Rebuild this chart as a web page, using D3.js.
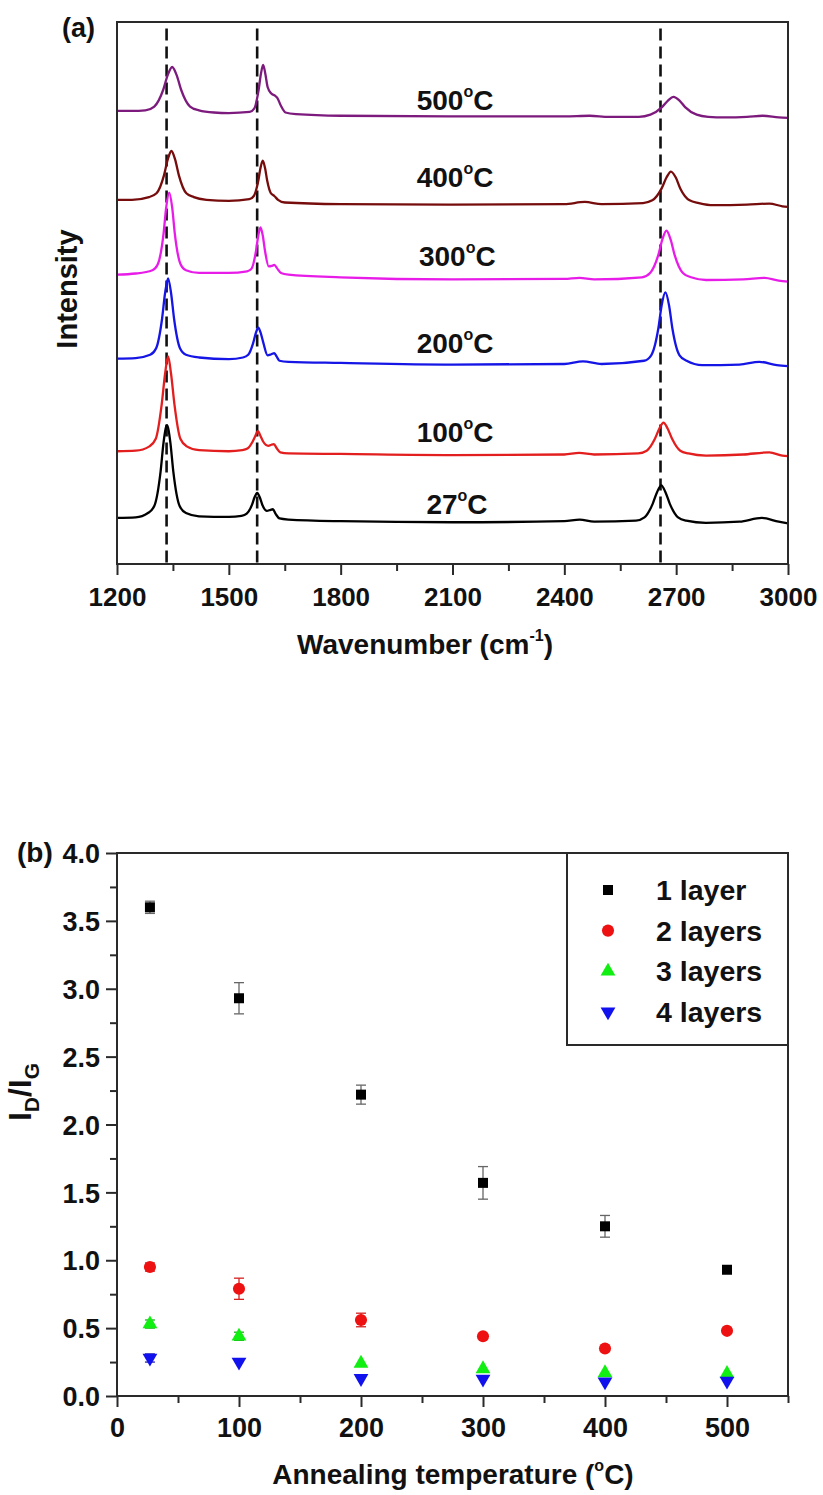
<!DOCTYPE html>
<html><head><meta charset="utf-8">
<script src="https://cdn.jsdelivr.net/npm/d3@7"></script>
<style>
body{margin:0;background:#fff}
svg{display:block}
text{font-family:"Liberation Sans",Arial,Helvetica,sans-serif;font-weight:bold;fill:#111}
</style>
</head><body>
<svg id="chart" width="823" height="1495"></svg>
<script>
// ---------- Panel (a): Raman spectra ----------
const spectraTemps = ["500", "400", "300", "200", "100", "27"];
const spectraColors = ["#7d1a7d", "#760c0c", "#e81ce8", "#1515e6", "#e31e1e", "#000000"];
const spec500 = [[1200,836],[1240,836],[1276,837],[1300,844],[1324,875],[1336,902],[1348,917],[1360,902],[1372,875],[1396,844],[1420,837],[1460,833],[1500,832],[1556,834],[1568,840],[1580,875],[1586,904],[1592,921],[1598,904],[1604,880],[1614,868],[1624,864],[1630,860],[1640,845],[1652,833],[1680,830],[1800,827],[2100,826],[2400,826],[2468,827],[2520,825],[2600,825],[2631,829],[2662,843],[2678,855],[2693,862],[2709,855],[2724,843],[2755,829],[2786,825],[2830,824],[2890,825],[2932,827],[2975,824],[3000,823]];
const spec400 = [[1200,672],[1240,672],[1286,677],[1306,684],[1326,717],[1336,746],[1346,762],[1356,746],[1366,717],[1386,684],[1406,677],[1440,672],[1500,670],[1555,673],[1567,679],[1579,707],[1585,731],[1591,744],[1597,731],[1603,707],[1612,685],[1622,679],[1632,672],[1650,667],[1800,664],[2100,663],[2400,664],[2455,668],[2500,664],[2611,666],[2636,671],[2661,693],[2674,713],[2686,724],[2699,713],[2711,693],[2736,671],[2761,666],[2800,662],[2890,663],[2950,665],[2985,660],[3000,659]];
const spec300 = [[1200,534],[1250,536],[1295,542],[1310,554],[1325,610],[1332,658],[1340,685],[1348,658],[1355,610],[1370,554],[1385,542],[1420,537],[1500,537],[1549,540],[1561,545],[1573,578],[1579,606],[1585,621],[1591,606],[1597,578],[1607,549],[1615,550],[1622,552],[1630,545],[1640,537],[1660,534],[1800,529],[2100,525],[2400,526],[2441,528],[2480,525],[2608,529],[2630,537],[2652,570],[2663,599],[2674,615],[2685,599],[2696,570],[2718,537],[2740,529],[2780,524],[2880,525],[2937,528],[2975,523],[3000,521]];
const spec200 = [[1200,379],[1250,380],[1289,386],[1305,398],[1321,453],[1329,500],[1337,527],[1345,500],[1353,453],[1369,398],[1385,386],[1420,381],[1500,378],[1538,381],[1552,386],[1565,407],[1572,425],[1579,436],[1586,425],[1593,407],[1604,385],[1614,387],[1622,389],[1628,383],[1636,375],[1660,373],[1800,371],[2100,368],[2400,369],[2450,374],[2500,369],[2614,375],[2633,385],[2652,434],[2661,477],[2671,501],[2681,477],[2690,434],[2709,385],[2728,375],[2770,367],[2870,368],[2923,373],[2970,367],[3000,365]];
const spec100 = [[1200,208],[1250,209],[1287,217],[1304,231],[1320,295],[1329,351],[1337,383],[1345,351],[1354,295],[1370,231],[1387,217],[1420,210],[1500,208],[1536,210],[1550,213],[1564,226],[1571,236],[1578,245],[1585,236],[1592,226],[1606,218],[1614,220],[1621,221],[1628,214],[1638,206],[1660,204],[1800,203],[2100,201],[2400,202],[2440,205],[2480,202],[2598,204],[2621,209],[2643,231],[2655,250],[2666,261],[2677,250],[2689,231],[2711,209],[2733,204],[2780,200],[2880,202],[2950,206],[2985,200],[3000,199]];
const spec27 = [[1200,85],[1250,86],[1283,94],[1300,107],[1317,171],[1325,225],[1334,256],[1343,225],[1351,171],[1368,107],[1385,94],[1420,88],[1500,87],[1534,89],[1548,93],[1562,109],[1569,123],[1576,131],[1583,123],[1590,109],[1602,98],[1612,100],[1618,101],[1626,92],[1636,84],[1660,82],[1800,79],[2100,77],[2400,79],[2441,82],[2480,78],[2592,80],[2615,86],[2637,111],[2649,133],[2660,145],[2671,133],[2683,111],[2705,86],[2727,80],[2780,76],[2870,78],[2930,85],[2975,78],[3000,75]];
const spectra = [spec500, spec400, spec300, spec200, spec100, spec27];
const labelLevels = [838, 696, 549, 390, 226, 92];   // intensity level of each temperature label
const labelWave = [2004, 2004, 2010, 2004, 2004, 2030];
const peakLines = [1333, 1576, 2658];                // D, G, 2D reference lines
const waveTicks = [1200, 1500, 1800, 2100, 2400, 2700, 3000];
const waveMinor = [1350, 1650, 1950, 2250, 2550, 2850];

// ---------- Panel (b): I_D/I_G ----------
const anneal = [27, 100, 200, 300, 400, 500];
const ratio1 = [3.60, 2.93, 2.22, 1.57, 1.25, 0.93];
const err1   = [0.045, 0.115, 0.07, 0.12, 0.08, 0.02];
const ratio2 = [0.95, 0.79, 0.56, 0.44, 0.35, 0.48];
const err2   = [0.03, 0.078, 0.05, 0.02, 0.02, 0.02];
const ratio3 = [0.53, 0.44, 0.24, 0.20, 0.17, 0.165];
const err3   = [0.03, 0.03, 0.02, 0.02, 0.01, 0.01];
const ratio4 = [0.28, 0.25, 0.13, 0.125, 0.105, 0.11];
const err4   = [0.03, 0.02, 0.02, 0.02, 0.01, 0.01];
const layerNames = ["1 layer", "2 layers", "3 layers", "4 layers"];
const layerColors = ["#000000", "#ee1111", "#11ee11", "#1111ee"];
const errColors = ["#666666", "#d62020", "#22aa22", "#2222aa"];
const ratioTicks = [0, 0.5, 1.0, 1.5, 2.0, 2.5, 3.0, 3.5, 4.0];
const ratioMinor = [0.25, 0.75, 1.25, 1.75, 2.25, 2.75, 3.25, 3.75];
const tempTicks = [0, 100, 200, 300, 400, 500];
const tempMinor = [50, 150, 250, 350, 450, 550];

const svg = d3.select("#chart");
const AX = "#2a2a2a";

// ================= Panel (a) =================
const xA = d3.scaleLinear().domain([1200, 3000]).range([117, 788]);
const yA = d3.scaleLinear().domain([0, 1000]).range([564, 22]);

const gA = svg.append("g");
gA.selectAll("line.peak").data(peakLines).join("line")
  .attr("x1", d => xA(d)).attr("x2", d => xA(d))
  .attr("y1", yA(988)).attr("y2", yA(0))
  .attr("stroke", "#111").attr("stroke-width", 2.6).attr("stroke-dasharray", "12,6");

const line = d3.line().x(d => xA(d[0])).y(d => yA(d[1])).curve(d3.curveMonotoneX);
gA.selectAll("path.spec").data(spectra).join("path")
  .attr("fill", "none").attr("stroke", (d, i) => spectraColors[i])
  .attr("stroke-width", 2.3).attr("stroke-linejoin", "round").attr("d", line);

spectraTemps.forEach((t, i) => {
  const tx = gA.append("text").attr("x", xA(labelWave[i])).attr("y", yA(labelLevels[i]))
    .attr("font-size", 28);
  tx.append("tspan").text(t);
  tx.append("tspan").attr("font-size", 16).attr("dy", -13).text("o");
  tx.append("tspan").attr("dy", 13).text("C");
});

gA.append("rect").attr("x", xA(1200)).attr("y", yA(1000))
  .attr("width", xA(3000) - xA(1200)).attr("height", yA(0) - yA(1000))
  .attr("fill", "none").attr("stroke", AX).attr("stroke-width", 2);

const axA = gA.append("g").attr("transform", `translate(0,${yA(0)})`)
  .call(d3.axisBottom(xA).tickValues(waveTicks).tickSize(11).tickSizeOuter(0).tickFormat(d3.format("d")));
axA.select(".domain").remove();
axA.selectAll("line").attr("stroke", AX).attr("stroke-width", 2);
axA.selectAll("text").attr("y", 42).attr("dy", 0).attr("font-size", 26).attr("fill", "#111")
  .attr("font-family", "Liberation Sans, Arial, sans-serif").attr("font-weight", "bold");
const axAm = gA.append("g").attr("transform", `translate(0,${yA(0)})`)
  .call(d3.axisBottom(xA).tickValues(waveMinor).tickSize(7).tickFormat(""));
axAm.select(".domain").remove();
axAm.selectAll("line").attr("stroke", AX).attr("stroke-width", 2);

const tA = svg.append("text").attr("x", 425).attr("y", 654).attr("text-anchor", "middle").attr("font-size", 28);
tA.append("tspan").text("Wavenumber (cm");
tA.append("tspan").attr("font-size", 16).attr("dy", -13).text("-1");
tA.append("tspan").attr("dy", 13).text(")");
svg.append("text").attr("transform", "translate(77,289) rotate(-90)")
  .attr("text-anchor", "middle").attr("font-size", 29).text("Intensity");
svg.append("text").attr("x", 62).attr("y", 37).attr("font-size", 27).text("(a)");

// ================= Panel (b) =================
const xB = d3.scaleLinear().domain([0, 550]).range([117, 788]);
const yB = d3.scaleLinear().domain([0, 4]).range([1396, 853]);
const gB = svg.append("g");

gB.append("rect").attr("x", xB(0)).attr("y", yB(4))
  .attr("width", xB(550) - xB(0)).attr("height", yB(0) - yB(4))
  .attr("fill", "none").attr("stroke", AX).attr("stroke-width", 2);

const axBx = gB.append("g").attr("transform", `translate(0,${yB(0)})`)
  .call(d3.axisBottom(xB).tickValues(tempTicks).tickSize(11).tickSizeOuter(0).tickFormat(d3.format("d")));
axBx.select(".domain").remove();
axBx.selectAll("line").attr("stroke", AX).attr("stroke-width", 2);
axBx.selectAll("text").attr("y", 41).attr("dy", 0).attr("font-size", 27).attr("fill", "#111")
  .attr("font-family", "Liberation Sans, Arial, sans-serif").attr("font-weight", "bold");
const axBxm = gB.append("g").attr("transform", `translate(0,${yB(0)})`)
  .call(d3.axisBottom(xB).tickValues(tempMinor).tickSize(7).tickFormat(""));
axBxm.select(".domain").remove();
axBxm.selectAll("line").attr("stroke", AX).attr("stroke-width", 2);

const axBy = gB.append("g").attr("transform", `translate(${xB(0)},0)`)
  .call(d3.axisLeft(yB).tickValues(ratioTicks).tickSize(11).tickSizeOuter(0).tickFormat(d3.format(".1f")));
axBy.select(".domain").remove();
axBy.selectAll("line").attr("stroke", AX).attr("stroke-width", 2);
axBy.selectAll("text").attr("x", -17).attr("dy", "0.36em").attr("font-size", 27).attr("fill", "#111")
  .attr("font-family", "Liberation Sans, Arial, sans-serif").attr("font-weight", "bold");
const axBym = gB.append("g").attr("transform", `translate(${xB(0)},0)`)
  .call(d3.axisLeft(yB).tickValues(ratioMinor).tickSize(7).tickFormat(""));
axBym.select(".domain").remove();
axBym.selectAll("line").attr("stroke", AX).attr("stroke-width", 2);

const series = [
  {v: ratio1, e: err1, sym: d3.symbolSquare, size: 100, rot: 0},
  {v: ratio2, e: err2, sym: d3.symbolCircle, size: 115, rot: 0},
  {v: ratio3, e: err3, sym: d3.symbolTriangle, size: 95, rot: 0},
  {v: ratio4, e: err4, sym: d3.symbolTriangle, size: 95, rot: 180}
];
series.forEach((s, k) => {
  const g = gB.append("g");
  const pts = anneal.map((t, i) => ({t, v: s.v[i], e: s.e[i]}));
  const eb = g.selectAll("g.eb").data(pts).join("g").attr("stroke", errColors[k]).attr("stroke-width", 1.3);
  eb.append("line").attr("x1", d => xB(d.t)).attr("x2", d => xB(d.t))
    .attr("y1", d => yB(d.v - d.e)).attr("y2", d => yB(d.v + d.e));
  eb.filter(d => d.e > 0.025).append("line").attr("x1", d => xB(d.t) - 5).attr("x2", d => xB(d.t) + 5)
    .attr("y1", d => yB(d.v + d.e)).attr("y2", d => yB(d.v + d.e));
  eb.filter(d => d.e > 0.025).append("line").attr("x1", d => xB(d.t) - 5).attr("x2", d => xB(d.t) + 5)
    .attr("y1", d => yB(d.v - d.e)).attr("y2", d => yB(d.v - d.e));
  g.selectAll("path.m").data(pts).join("path")
    .attr("d", d3.symbol().type(s.sym).size(s.size))
    .attr("transform", d => `translate(${xB(d.t)},${yB(d.v)}) rotate(${s.rot})`)
    .attr("fill", layerColors[k]);
});

const leg = gB.append("g");
leg.append("rect").attr("x", 567).attr("y", yB(4)).attr("width", xB(550) - 567).attr("height", 192)
  .attr("fill", "#fff").attr("stroke", AX).attr("stroke-width", 2);
layerNames.forEach((n, k) => {
  const cy = 890 + k * 40.6;
  leg.append("path").attr("d", d3.symbol().type(series[k].sym).size(series[k].size))
    .attr("transform", `translate(608,${cy}) rotate(${series[k].rot})`).attr("fill", layerColors[k]);
  leg.append("text").attr("x", 656).attr("y", cy + 10).attr("font-size", 28.5).text(n);
});

const tB = svg.append("text").attr("x", 453).attr("y", 1484).attr("text-anchor", "middle").attr("font-size", 28);
tB.append("tspan").text("Annealing temperature (");
tB.append("tspan").attr("font-size", 16).attr("dy", -13).text("o");
tB.append("tspan").attr("dy", 13).text("C)");
const yl = svg.append("text").attr("transform", "translate(31,1092) rotate(-90)").attr("text-anchor", "middle").attr("font-size", 32);
yl.append("tspan").text("I");
yl.append("tspan").attr("font-size", 21).attr("dy", 8).text("D");
yl.append("tspan").attr("dy", -8).text("/I");
yl.append("tspan").attr("font-size", 21).attr("dy", 8).text("G");
svg.append("text").attr("x", 17).attr("y", 862).attr("font-size", 28).text("(b)");
</script>
</body></html>
